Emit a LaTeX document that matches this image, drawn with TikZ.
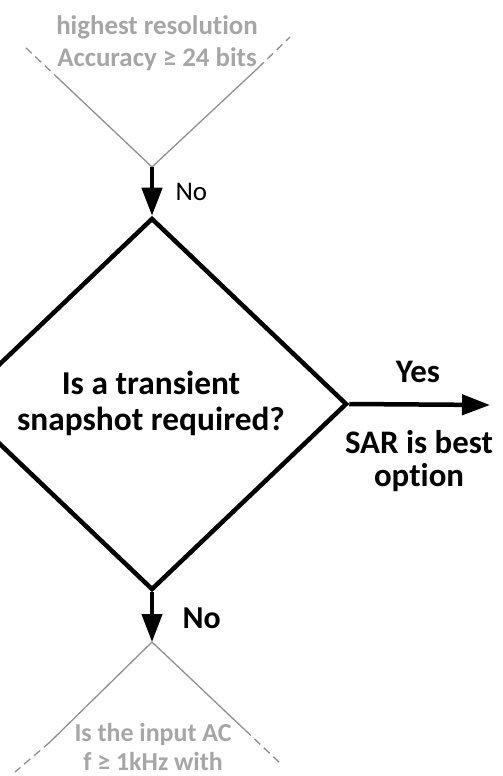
\documentclass[tikz,border=0pt]{standalone}
\usepackage{fontspec}
\setmainfont{Carlito}[Ligatures=NoCommon]
\usepackage{xcolor}
\definecolor{faded}{HTML}{A6A6A6}
\definecolor{fadedline}{HTML}{8F8F8F}
\usetikzlibrary{arrows.meta, shapes.geometric, positioning, calc}

\begin{document}
\begin{tikzpicture}[x=1bp, y=-1bp, >={Triangle[length=28bp, width=20bp]},
    fadedtext/.style={font=\bfseries\fontsize{27}{32}\selectfont, text=faded, align=center},
    fadededge/.style={draw=fadedline, line width=1.3bp},
    fadeddash/.style={fadededge, dashed, dash pattern=on 8bp off 5bp},
    flowarrow/.style={->, line width=4.5bp}]
  \useasboundingbox (0,0) rectangle (503,776);

  % previous question (faded)
  \node[fadedtext] (prevq) at (157,43) {highest resolution\\Accuracy ≥ 24 bits};
  \coordinate (prevtip) at (152,167);
  \coordinate (prevleft) at (60,80);
  \coordinate (prevright) at (258,68);
  \draw[fadededge] (prevleft) -- (prevtip) -- (prevright);
  \draw[fadeddash] (prevleft) -- (25,47);
  \draw[fadeddash] (prevright) -- (290,37);

  % current question
  \node[draw, diamond, line width=4.5bp, minimum width=390bp, minimum height=372bp,
        inner sep=0pt] (snapq) at (152,404) {};
  \node[font=\bfseries\fontsize{33.5}{36}\selectfont, align=center] (snaptext)
        at (151,403) {Is a transient\\snapshot required?};

  \draw[flowarrow] (prevtip) -- (snapq.north);
  \node[font=\fontsize{27}{32}\selectfont, anchor=west] (noa) at (172,192) {No};

  % yes branch
  \coordinate (sarend) at (490,405);
  \draw[flowarrow] (snapq.east) -- (sarend);
  \node[font=\bfseries\fontsize{33}{34}\selectfont] (yes) at (418,372) {Yes};
  \node[font=\bfseries\fontsize{33}{33}\selectfont, align=center] (sar)
        at (419,461) {SAR is best\\option};

  % next question (faded)
  \coordinate (nexttip) at (152,642);
  \draw[flowarrow] (snapq.south) -- (nexttip);
  \node[font=\bfseries\fontsize{32}{36}\selectfont, anchor=west] (nob) at (179,618) {No};

  \coordinate (nextleft) at (50,742);
  \coordinate (nextright) at (245,730);
  \draw[fadededge] (nextleft) -- (nexttip) -- (nextright);
  \draw[fadeddash] (nextleft) -- (15,772);
  \draw[fadeddash] (nextright) -- (280,763);
  \node[fadedtext, font=\bfseries\fontsize{26}{30}\selectfont, inner sep=0.5bp]
        (nextq) at (153,747) {Is the input AC\\f ≥ 1kHz with};
\end{tikzpicture}
\end{document}
